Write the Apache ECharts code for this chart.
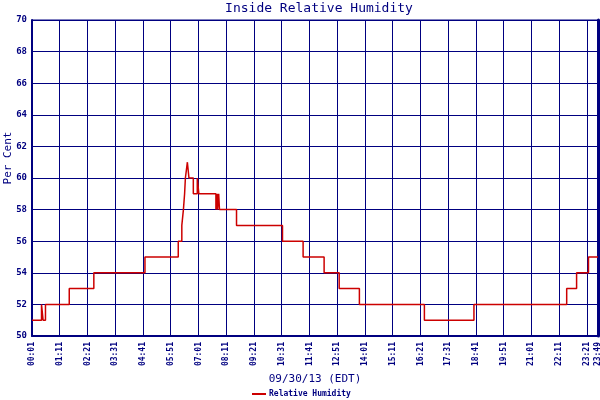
<!DOCTYPE html>
<html>
<head>
<meta charset="utf-8">
<title>Inside Relative Humidity</title>
<script src="https://cdn.jsdelivr.net/npm/echarts@6/dist/echarts.min.js"></script>
<style>
  html, body { margin: 0; padding: 0; background: #fff; }
  #chart { width: 600px; height: 400px; }
</style>
</head>
<body>
<div id="chart"></div>
<script>
// times where the reading changed (EDT, 09/30/13) and the new value
var changeTimes = ['00:01', '00:25', '00:29', '00:35', '01:35', '02:37', '04:46',
    '06:10', '06:19', '06:23', '06:26', '06:28', '06:33', '06:37', '06:48', '06:58', '07:02',
    '07:45', '07:48', '07:49', '07:52', '07:54', '08:37', '10:33', '11:25', '12:18', '12:56',
    '13:47', '16:31', '18:36', '22:30', '22:55', '23:25', '23:49'];
var humidity = [51, 52, 51, 52, 53, 54, 55,
    56, 57, 58, 59, 60, 61, 60, 59, 60, 59,
    58, 59, 58, 59, 58, 57, 56, 55, 54, 53,
    52, 51, 52, 53, 54, 55, 55];

// y axis range
var yMin = 50, yMax = 70, yStep = 2;
// x axis: minutes after 00:01, a label every 70 minutes
var xStep = 70, xLast = '23:49';

function toMinutes(t) {
    var p = t.split(':');
    return parseInt(p[0], 10) * 60 + parseInt(p[1], 10) - 1; // 00:01 -> 0
}
function toLabel(v) {
    var m = Math.round(v) + 1;
    var h = Math.floor(m / 60), mm = m % 60;
    return (h < 10 ? '0' + h : h) + ':' + (mm < 10 ? '0' + mm : mm);
}

var points = [];
for (var i = 0; i < changeTimes.length; i++) {
    points.push([toMinutes(changeTimes[i]), humidity[i]]);
}

var navy = '#000080';
var myChart = echarts.init(document.getElementById('chart'));

var option = {
    animation: false,
    backgroundColor: '#ffffff',
    title: {
        text: 'Inside Relative Humidity',
        left: 314,
        textAlign: 'center',
        top: -3,
        textStyle: {
            color: navy,
            fontFamily: 'DejaVu Sans Mono',
            fontWeight: 'normal',
            fontSize: 13
        }
    },
    legend: {
        data: ['Relative Humidity'],
        left: 247,
        top: 385,
        icon: 'rect',
        itemWidth: 14,
        itemHeight: 2,
        itemGap: 4,
        textStyle: {
            color: navy,
            fontFamily: 'DejaVu Sans Mono',
            fontWeight: 'bold',
            fontSize: 8,
            padding: [0, 0, 0, -2]
        }
    },
    grid: {
        left: 32,
        right: 2,
        top: 20,
        bottom: 64,
        outerBoundsMode: 'none',
        containLabel: false,
        show: true,
        borderColor: navy,
        borderWidth: 1
    },
    xAxis: {
        type: 'value',
        min: 0,
        max: toMinutes(xLast),
        interval: xStep,
        name: '09/30/13 (EDT)',
        nameLocation: 'middle',
        nameGap: 38,
        nameMoveOverlap: false,
        nameTextStyle: {
            color: navy,
            fontFamily: 'DejaVu Sans Mono',
            fontSize: 11
        },
        axisLine: { show: true, lineStyle: { color: navy, width: 2 } },
        axisTick: { show: false },
        axisLabel: {
            rotate: 90,
            margin: 6,
            color: navy,
            fontFamily: 'DejaVu Sans Mono',
            fontWeight: 'bold',
            fontSize: 8,
            showMinLabel: true,
            showMaxLabel: true,
            formatter: toLabel
        },
        splitLine: { show: true, lineStyle: { color: navy, width: 1 } }
    },
    yAxis: [{
        type: 'value',
        min: yMin,
        max: yMax,
        interval: yStep,
        name: 'Per Cent',
        nameLocation: 'middle',
        nameGap: 18,
        nameMoveOverlap: false,
        nameRotate: 90,
        nameTextStyle: {
            color: navy,
            fontFamily: 'DejaVu Sans Mono',
            fontSize: 11,
            padding: [0, 0, 0, 40]
        },
        axisLine: { show: true, lineStyle: { color: navy, width: 2 } },
        axisTick: { show: false },
        axisLabel: {
            margin: 5,
            color: navy,
            fontFamily: 'DejaVu Sans Mono',
            fontWeight: 'bold',
            fontSize: 9
        },
        splitLine: { show: true, lineStyle: { color: navy, width: 1 } }
    }, {
        // thick right-hand frame
        type: 'value',
        position: 'right',
        min: yMin,
        max: yMax,
        interval: yStep,
        axisLine: { show: true, lineStyle: { color: navy, width: 3 } },
        axisTick: { show: false },
        axisLabel: { show: false },
        splitLine: { show: false }
    }],
    series: [{
        name: 'Relative Humidity',
        type: 'line',
        step: 'end',
        showSymbol: false,
        symbol: 'none',
        color: '#cc0000',
        lineStyle: { color: '#cc0000', width: 1.5 },
        data: points
    }]
};

myChart.setOption(option);
</script>
</body>
</html>
